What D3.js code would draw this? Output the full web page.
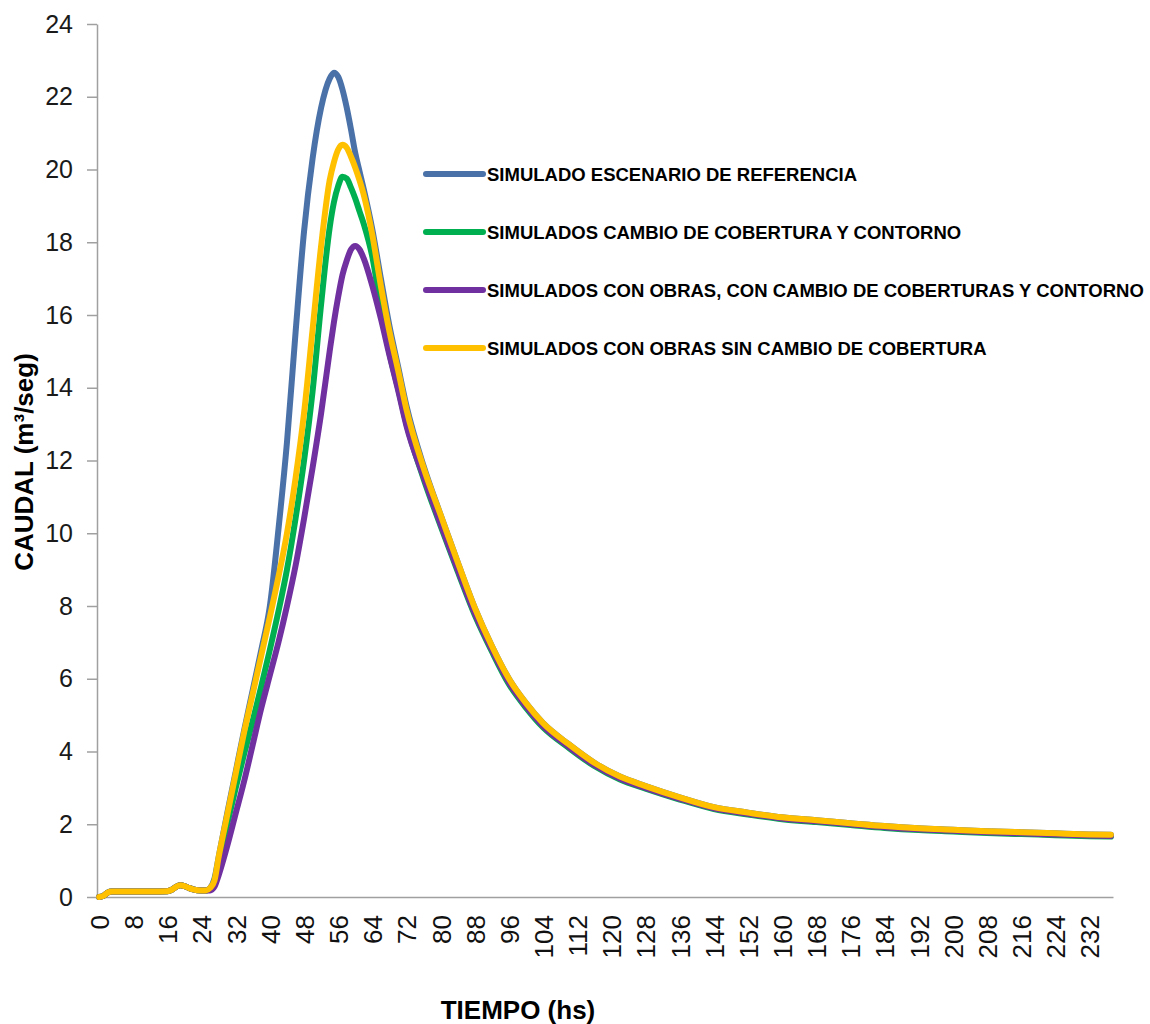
<!DOCTYPE html>
<html>
<head>
<meta charset="utf-8">
<script src="https://cdn.jsdelivr.net/npm/d3@7"></script>
<style>
  html, body { margin: 0; padding: 0; background: #fff; }
  svg { display: block; }
</style>
</head>
<body>
<svg id="chart" width="1150" height="1024"></svg>
<script>
// Hydrograph: discharge (m³/s) against time (hours) for four simulated scenarios.

const hours = [0,1,2,3,8,12,16,17,18,19,20,21,22,24,25,26,27,28,30,32,34,36,38,40,42,44,46,48,50,52,54,55,56,57,58,59,60,61,62,64,66,68,70,72,76,80,84,88,92,96,100,104,110,116,122,128,136,144,152,160,168,176,184,192,200,208,216,224,232,237];

const seriesNames = [
  "SIMULADO ESCENARIO DE REFERENCIA",
  "SIMULADOS CAMBIO DE COBERTURA Y CONTORNO",
  "SIMULADOS CON OBRAS, CON CAMBIO DE COBERTURAS Y CONTORNO",
  "SIMULADOS CON OBRAS SIN CAMBIO DE COBERTURA"
];

const seriesColors = ["#4a72a9", "#00b050", "#7030a0", "#ffc000"];

const referencia = [0,0.03,0.12,0.15,0.15,0.15,0.16,0.2,0.28,0.32,0.3,0.25,0.21,0.18,0.18,0.25,0.5,1.1,2.3,3.45,4.6,5.7,6.8,8.0,10.1,12.5,15.5,18.3,20.3,21.7,22.5,22.66,22.55,22.2,21.7,21.1,20.45,19.95,19.45,18.35,17.0,15.7,14.6,13.5,11.85,10.5,9.2,7.95,6.9,6.0,5.33,4.78,4.2,3.69,3.31,3.05,2.74,2.47,2.32,2.19,2.11,2.03,1.95,1.89,1.85,1.81,1.78,1.75,1.72,1.71];

const cambioCobertura = [0,0.03,0.12,0.15,0.15,0.15,0.16,0.2,0.28,0.32,0.3,0.25,0.21,0.18,0.18,0.22,0.45,0.95,2.0,3.0,3.95,4.85,5.8,6.8,7.85,9.0,10.4,12.0,13.9,16.3,18.4,19.1,19.55,19.8,19.75,19.5,19.2,18.85,18.5,17.6,16.2,14.95,14.0,13.0,11.5,10.2,8.95,7.75,6.75,5.85,5.2,4.66,4.1,3.6,3.23,2.98,2.68,2.42,2.27,2.14,2.06,1.98,1.9,1.84,1.8,1.76,1.73,1.7,1.67,1.66];

const obrasConCambio = [0,0.03,0.12,0.15,0.15,0.15,0.16,0.2,0.28,0.32,0.3,0.25,0.21,0.18,0.18,0.18,0.28,0.6,1.4,2.3,3.2,4.2,5.2,6.1,7.0,8.0,9.1,10.4,11.8,13.3,15.0,15.8,16.5,17.1,17.5,17.8,17.9,17.8,17.55,16.8,15.9,14.9,13.95,12.95,11.55,10.25,9.0,7.8,6.8,5.9,5.24,4.7,4.13,3.63,3.26,3.0,2.7,2.44,2.29,2.16,2.08,2.0,1.92,1.86,1.82,1.78,1.75,1.72,1.69,1.68];

const obrasSinCambio = [0,0.03,0.12,0.15,0.15,0.15,0.16,0.2,0.28,0.32,0.3,0.25,0.21,0.18,0.18,0.25,0.45,1.1,2.25,3.4,4.55,5.6,6.65,7.7,8.8,10.0,11.5,13.3,15.6,17.9,19.7,20.2,20.55,20.68,20.6,20.35,20.05,19.7,19.3,18.2,16.8,15.55,14.5,13.4,11.8,10.5,9.2,7.95,6.9,6.0,5.33,4.78,4.2,3.69,3.31,3.05,2.74,2.47,2.32,2.19,2.11,2.03,1.95,1.89,1.85,1.81,1.78,1.75,1.72,1.71];

const seriesValues = [referencia, cambioCobertura, obrasConCambio, obrasSinCambio];

const xTickValues = d3.range(0, 233, 8);
const yTickValues = d3.range(0, 25, 2);

const svg = d3.select("#chart");
const font = "'Liberation Sans', Arial, sans-serif";

const x = d3.scaleLinear().domain([-0.5, 237.5]).range([97, 1113]);
const y = d3.scaleLinear().domain([0, 24]).range([897, 24]);

// Y axis
const yAxis = svg.append("g")
  .attr("transform", "translate(97,0)")
  .call(d3.axisLeft(y).tickValues(yTickValues).tickSize(10).tickSizeOuter(0).tickPadding(14));
yAxis.select(".domain").attr("stroke", "#a0a0a0").attr("stroke-width", 1.5);
yAxis.selectAll(".tick line").attr("stroke", "#a0a0a0").attr("stroke-width", 1.5);
yAxis.selectAll(".tick text")
  .attr("font-family", font).attr("font-size", 25).attr("fill", "#1a1a1a");

// X axis with vertical labels
const xAxis = svg.append("g")
  .attr("transform", "translate(0,897)")
  .call(d3.axisBottom(x).tickValues(xTickValues).tickSize(0).tickSizeOuter(0));
xAxis.select(".domain").attr("stroke", "#a0a0a0").attr("stroke-width", 1.5);
xAxis.selectAll(".tick text")
  .attr("font-family", font).attr("font-size", 26).attr("fill", "#111")
  .attr("transform", "rotate(-90)")
  .attr("text-anchor", "end")
  .attr("x", -18).attr("y", 0).attr("dy", "0.36em");

// Series lines
const line = d3.line()
  .x((d, i) => x(hours[i]))
  .y(d => y(d))
  .curve(d3.curveMonotoneX);

svg.append("g").selectAll("path")
  .data(seriesValues)
  .join("path")
  .attr("d", d => line(d))
  .attr("fill", "none")
  .attr("stroke", (d, i) => seriesColors[i])
  .attr("stroke-width", 6)
  .attr("stroke-linecap", "round")
  .attr("stroke-linejoin", "round");

// Legend
const legend = svg.append("g").attr("transform", "translate(426,174)");
const items = legend.selectAll("g")
  .data(seriesNames)
  .join("g")
  .attr("transform", (d, i) => `translate(0,${i * 58})`);
items.append("line")
  .attr("x1", 0).attr("x2", 57).attr("y1", 0).attr("y2", 0)
  .attr("stroke", (d, i) => seriesColors[i])
  .attr("stroke-width", 6)
  .attr("stroke-linecap", "round");
items.append("text")
  .attr("x", 61).attr("y", 0).attr("dy", "0.36em")
  .attr("font-family", font).attr("font-weight", "bold").attr("font-size", 18.5)
  .attr("fill", "#000")
  .text(d => d);

// Axis titles
svg.append("text")
  .attr("transform", "translate(33,462) rotate(-90)")
  .attr("text-anchor", "middle")
  .attr("font-family", font).attr("font-weight", "bold").attr("font-size", 26)
  .attr("fill", "#000")
  .text("CAUDAL (m³/seg)");

svg.append("text")
  .attr("x", 518).attr("y", 1019)
  .attr("text-anchor", "middle")
  .attr("font-family", font).attr("font-weight", "bold").attr("font-size", 26)
  .attr("fill", "#000")
  .text("TIEMPO (hs)");
</script>
</body>
</html>
